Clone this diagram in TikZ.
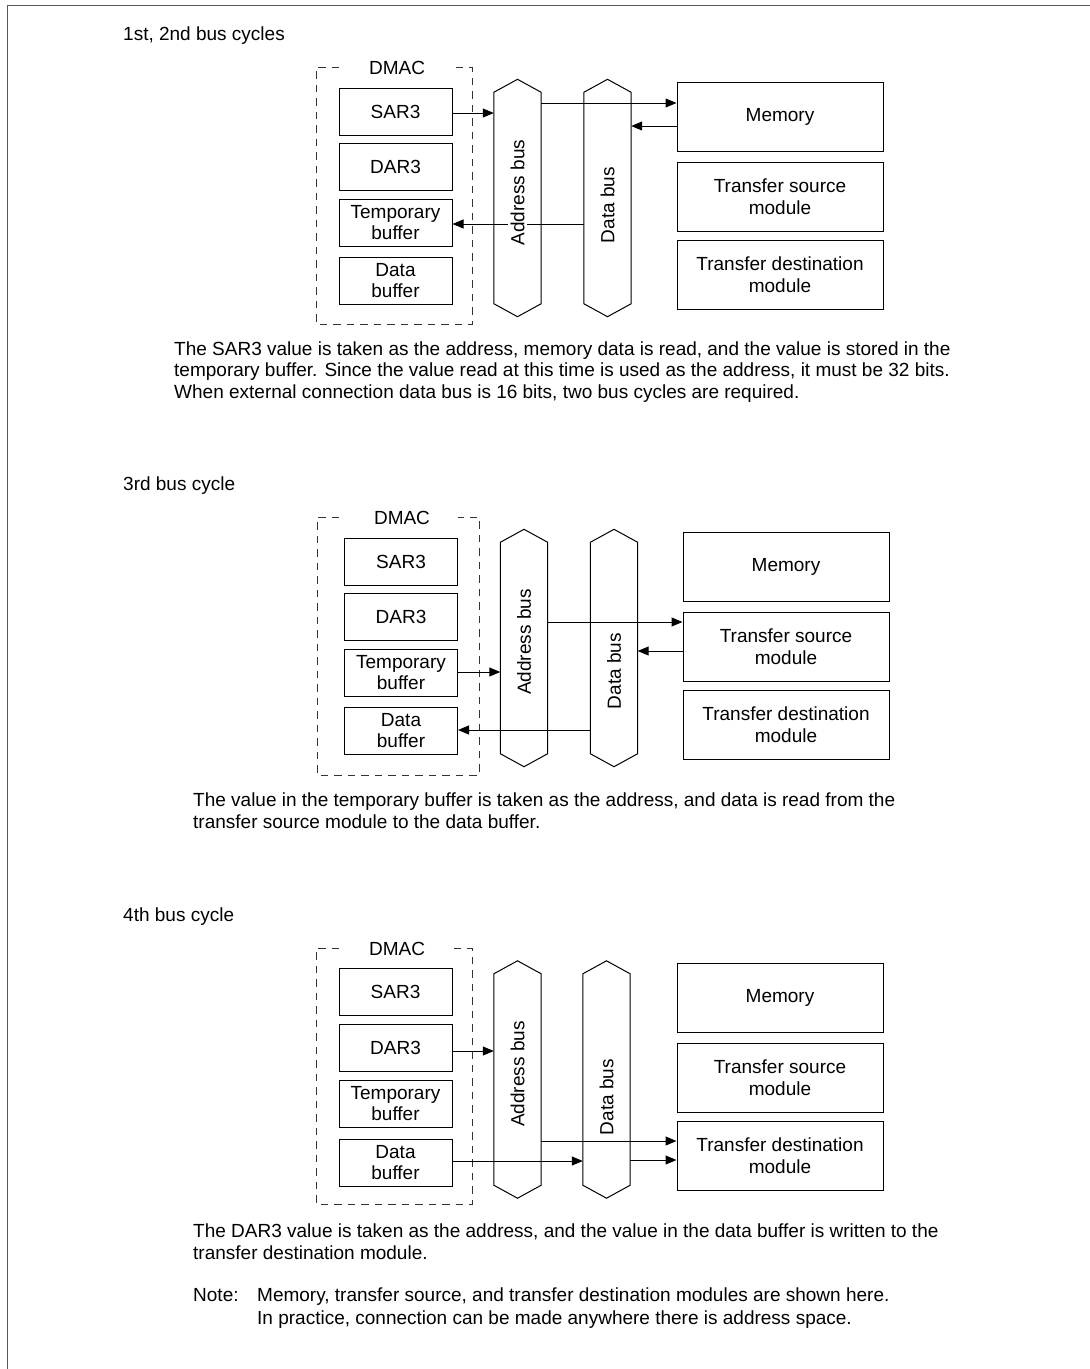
\documentclass[tikz,border=0pt]{standalone}
\usepackage{fontspec}
\setmainfont{Liberation Sans}
\usetikzlibrary{arrows.meta}
\newcommand\fs{\fontsize{19}{21.5}\selectfont}
\tikzset{
  dbox/.style={draw, line width=1pt, minimum width=113pt, minimum height=47pt, inner sep=0pt, align=center, font=\fs},
  mbox/.style={draw, line width=1pt, minimum width=206pt, minimum height=69pt, inner sep=0pt, align=center, font=\fs},
  busbody/.style={minimum width=47pt, minimum height=211pt, inner sep=0pt},
  buslabel/.style={rotate=90, fill=white, inner sep=3pt, font=\fs},
  arr/.style={-{Triangle[length=11pt,width=9pt]}, line width=1pt},
  dmacline/.style={line width=1pt, black!80, dash pattern=on 7.5pt off 6pt},
  txt/.style={anchor=base west, inner sep=0pt, font=\fs},
  lbl/.style={inner sep=0pt, font=\fs}
}
\newcommand\busdraw[1]{\draw[line width=1pt] (#1.north west) -- ([yshift=13pt]#1.north) -- (#1.north east) -- (#1.south east) -- ([yshift=-13pt]#1.south) -- (#1.south west) -- cycle;}
\begin{document}
\begin{tikzpicture}[x=1pt,y=-1pt]
\useasboundingbox (0,0) rectangle (1090,1369);
\draw[line width=1.2pt, black!65] (7.5,1369) -- (7.5,5.5) -- (1090,5.5);

% ================= Panel 1 =================
\node[txt] (t1) at (123,40) {1st, 2nd bus cycles};
\node[lbl] (dmac1) at (397,68) {DMAC};
\draw[dmacline] (339,67) -- (316,67) -- (316,324) -- (472,324) -- (472,67) -- (451,67);
\node[dbox] (sar1) at (395.5,111.5) {SAR3};
\node[dbox] (dar1) at (395.5,167) {DAR3};
\node[dbox] (tmp1) at (395.5,222.5) {Temporary\\buffer};
\node[dbox] (dbf1) at (395.5,280.5) {Data\\buffer};
\node[busbody] (abus1) at (517.5,198) {};
\node[busbody] (dbus1) at (607.5,198) {};
\busdraw{abus1}
\busdraw{dbus1}
\node[mbox] (mem1) at (780,116.5) {Memory};
\node[mbox] (ts1) at (780,196.5) {Transfer source\\module};
\node[mbox] (td1) at (780,274.5) {Transfer destination\\module};
\draw[arr] (sar1.east |- 0,113) -- (abus1.west |- 0,113);
\draw[arr] (abus1.east |- 0,103) -- (mem1.west |- 0,103);
\draw[arr] (mem1.west |- 0,126) -- (dbus1.east |- 0,126);
\draw[arr] (dbus1.west |- 0,224) -- (tmp1.east |- 0,224);
\node[buslabel] at (517.5,192.5) {Address bus};
\node[buslabel] at (607.5,205) {Data bus};
\node[txt] at (174,355) {The SAR3 value is taken as the address, memory data is read, and the value is stored in the};
\node[txt] at (174,376.5) {temporary buffer. Since the value read at this time is used as the address, it must be 32 bits.};
\node[txt] at (174,398) {When external connection data bus is 16 bits, two bus cycles are required.};

% ================= Panel 2 =================
\node[txt] (t2) at (123,490) {3rd bus cycle};
\node[lbl] (dmac2) at (402,518) {DMAC};
\draw[dmacline] (339,517) -- (317,517) -- (317,775) -- (479,775) -- (479,517) -- (458,517);
\node[dbox] (sar2) at (401,561.5) {SAR3};
\node[dbox] (dar2) at (401,616.5) {DAR3};
\node[dbox] (tmp2) at (401,672.5) {Temporary\\buffer};
\node[dbox] (dbf2) at (401,730.5) {Data\\buffer};
\node[busbody] (abus2) at (524,648) {};
\node[busbody] (dbus2) at (614,648) {};
\busdraw{abus2}
\busdraw{dbus2}
\node[mbox] (mem2) at (786,566.5) {Memory};
\node[mbox] (ts2) at (786,646.5) {Transfer source\\module};
\node[mbox] (td2) at (786,724.5) {Transfer destination\\module};
\draw[arr] (tmp2.east |- 0,672) -- (abus2.west |- 0,672);
\draw[arr] (abus2.east |- 0,622) -- (ts2.west |- 0,622);
\draw[arr] (ts2.west |- 0,651) -- (dbus2.east |- 0,651);
\draw[arr] (dbus2.west |- 0,730) -- (dbf2.east |- 0,730);
\node[buslabel] at (524,642) {Address bus};
\node[buslabel] at (614,671) {Data bus};
\node[txt] at (193,806) {The value in the temporary buffer is taken as the address, and data is read from the};
\node[txt] at (193,828) {transfer source module to the data buffer.};

% ================= Panel 3 =================
\node[txt] (t3) at (123,921) {4th bus cycle};
\node[lbl] (dmac3) at (397,949) {DMAC};
\draw[dmacline] (339,948) -- (316,948) -- (316,1204) -- (472,1204) -- (472,948) -- (451,948);
\node[dbox] (sar3) at (395.5,992) {SAR3};
\node[dbox] (dar3) at (395.5,1048) {DAR3};
\node[dbox] (tmp3) at (395.5,1103.5) {Temporary\\buffer};
\node[dbox] (dbf3) at (395.5,1162.5) {Data\\buffer};
\node[busbody] (abus3) at (517.5,1079.5) {};
\node[busbody] (dbus3) at (606.5,1079.5) {};
\busdraw{abus3}
\busdraw{dbus3}
\node[mbox] (mem3) at (780,997.5) {Memory};
\node[mbox] (ts3) at (780,1077.5) {Transfer source\\module};
\node[mbox] (td3) at (780,1155.5) {Transfer destination\\module};
\draw[arr] (dar3.east |- 0,1051) -- (abus3.west |- 0,1051);
\draw[arr] (abus3.east |- 0,1141) -- (td3.west |- 0,1141);
\draw[arr] (dbf3.east |- 0,1161) -- (dbus3.west |- 0,1161);
\draw[arr] (dbus3.east |- 0,1160) -- (td3.west |- 0,1160);
\node[buslabel] at (517.5,1074) {Address bus};
\node[buslabel] at (606.5,1097) {Data bus};
\node[txt] at (193,1237) {The DAR3 value is taken as the address, and the value in the data buffer is written to the};
\node[txt] at (193,1259) {transfer destination module.};

% ================= Note =================
\node[txt] (note) at (193,1301) {Note:};
\node[txt] at (257,1301) {Memory, transfer source, and transfer destination modules are shown here.};
\node[txt] at (257,1324) {In practice, connection can be made anywhere there is address space.};
\end{tikzpicture}
\end{document}
